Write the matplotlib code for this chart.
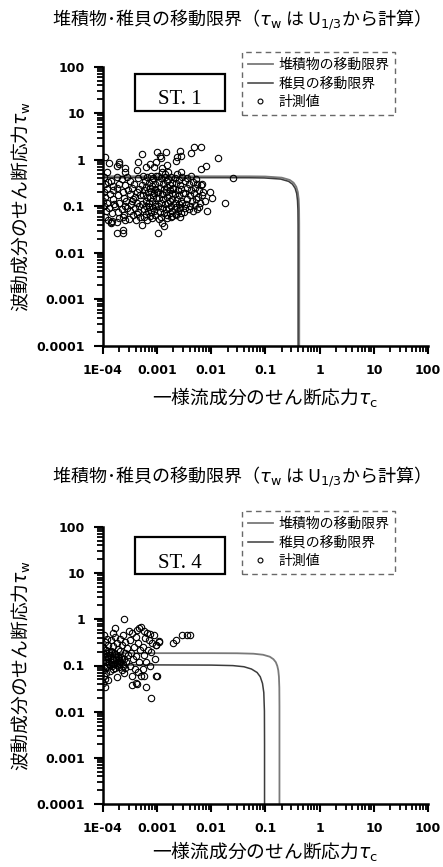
import matplotlib
matplotlib.use('Agg')
import matplotlib.pyplot as plt
from matplotlib.lines import Line2D
from matplotlib.patches import Rectangle
from matplotlib.ticker import FixedLocator, NullFormatter

plt.rcParams['font.family'] = ['Noto Sans CJK JP', 'DejaVu Sans']
plt.rcParams['mathtext.fontset'] = 'dejavusans'

# axis ticks
x_ticks = [1e-4, 1e-3, 1e-2, 1e-1, 1, 10, 100]
x_ticklabels = ['1E-04', '0.001', '0.01', '0.1', '1', '10', '100']
y_ticks = [1e-4, 1e-3, 1e-2, 1e-1, 1, 10, 100]
y_ticklabels = ['0.0001', '0.001', '0.01', '0.1', '1', '10', '100']
minor_ticks = [m * d for d in [1e-4, 1e-3, 1e-2, 1e-1, 1, 10] for m in range(2, 10)]

title_text = r'堆積物･稚貝の移動限界（$\tau_{\rm w}$ は U$_{1/3}$から計算）'
xlabel_text = r'一様流成分のせん断応力$\tau_{\rm c}$'
ylabel_text = r'波動成分のせん断応力$\tau_{\rm w}$'
legend_labels = ['堆積物の移動限界', '稚貝の移動限界', '計測値']

# ---- ST.1 : movement limits
st1_sed_tc = [1e-4, 1e-3, 0.01, 0.05, 0.1, 0.2, 0.28, 0.33, 0.37, 0.395, 0.41, 0.417, 0.4195, 0.42, 0.42]
st1_sed_tw = [0.44, 0.44, 0.44, 0.439, 0.435, 0.411, 0.367, 0.32, 0.261, 0.202, 0.142, 0.088, 0.043, 0.01, 1e-4]
st1_juv_tc = [1e-4, 1e-3, 0.01, 0.05, 0.095, 0.19, 0.267, 0.314, 0.352, 0.376, 0.39, 0.397, 0.3995, 0.40, 0.40]
st1_juv_tw = [0.41, 0.41, 0.41, 0.409, 0.405, 0.383, 0.342, 0.298, 0.243, 0.188, 0.132, 0.082, 0.04, 0.01, 1e-4]

# ---- ST.1 : measured values
st1_tc = [
    # near the axis
    1.1e-4, 1.3e-4, 1.2e-4, 1.05e-4, 1.4e-4, 1.1e-4, 1.5e-4, 1.2e-4, 1.05e-4, 1.35e-4,
    1.1e-4, 1.5e-4, 1.2e-4, 1.05e-4, 1.3e-4, 1.15e-4, 1.45e-4, 1.1e-4, 1.25e-4, 1.4e-4,
    1.6e-4, 1.0e-4, 1.55e-4, 1.25e-4,
    # 2e-4 .. 3e-4
    2.0e-4, 2.6e-4, 1.8e-4, 2.2e-4, 2.8e-4, 2.0e-4, 2.5e-4, 1.8e-4, 2.3e-4, 2.9e-4,
    1.9e-4, 2.4e-4, 2.7e-4, 2.0e-4, 1.7e-4, 2.5e-4, 2.2e-4, 2.8e-4, 1.9e-4, 2.4e-4,
    2.0e-4, 2.6e-4, 1.8e-4, 2.3e-4, 1.8e-4, 2.3e-4, 2.3e-4, 1.84e-4, 2.55e-4, 1.97e-4,
    # 3e-4 .. 5e-4
    3.2e-4, 3.8e-4, 4.5e-4, 3.5e-4, 4.2e-4, 3.1e-4, 4.8e-4, 3.6e-4, 4.3e-4, 3.3e-4,
    4.7e-4, 3.9e-4, 3.2e-4, 4.4e-4, 3.6e-4, 4.9e-4, 4.0e-4, 3.4e-4, 4.6e-4, 3.9e-4,
    5.2e-4, 4.2e-4, 4.5e-4, 5.2e-4, 3.0e-4, 4.2e-4, 1.4e-4, 1.45e-4,
    # 5e-4 .. 1e-3
    5.5e-4, 6.4e-4, 7.6e-4, 8.5e-4, 9.6e-4, 6.0e-4, 7.1e-4, 8.0e-4, 9.0e-4, 5.3e-4,
    6.3e-4, 7.3e-4, 8.2e-4, 9.3e-4, 5.8e-4, 6.8e-4, 7.8e-4, 8.9e-4, 9.8e-4, 5.5e-4,
    6.6e-4, 7.4e-4, 8.5e-4, 9.5e-4, 6.1e-4, 7.0e-4, 8.1e-4, 9.1e-4, 5.3e-4, 6.3e-4,
    7.2e-4, 8.3e-4, 9.3e-4, 5.8e-4, 6.9e-4, 7.8e-4, 8.8e-4, 6.1e-4, 7.5e-4, 9.0e-4,
    5.6e-4, 8.0e-4, 6.6e-4,
    # upper / lower stragglers
    6.1e-4, 1.0e-3, 1.43e-3, 1.16e-3, 1.12e-3, 9.4e-4, 7.4e-4, 8.7e-4, 1.24e-3, 1.54e-3,
    2.2e-3, 2.36e-3, 1.05e-3, 1.34e-3, 1.24e-3,
    # 1e-3 .. 2e-3
    1.05e-3, 1.2e-3, 1.4e-3, 1.6e-3, 1.8e-3, 1.1e-3, 1.3e-3, 1.5e-3, 1.7e-3, 1.9e-3,
    1.15e-3, 1.35e-3, 1.55e-3, 1.75e-3, 1.95e-3, 1.05e-3, 1.25e-3, 1.45e-3, 1.65e-3, 1.85e-3,
    1.1e-3, 1.3e-3, 1.5e-3, 1.7e-3, 1.9e-3, 1.2e-3, 1.4e-3, 1.6e-3, 1.8e-3, 1.05e-3,
    1.25e-3, 1.45e-3, 1.65e-3, 1.85e-3, 1.15e-3, 1.35e-3, 1.55e-3, 1.75e-3, 1.2e-3, 1.5e-3,
    1.8e-3, 1.1e-3, 1.4e-3, 1.6e-3, 1.25e-3,
    # 2e-3 .. 3e-3
    2.1e-3, 2.5e-3, 2.9e-3, 2.2e-3, 2.6e-3, 2.0e-3, 2.4e-3, 2.8e-3, 2.15e-3, 2.55e-3,
    2.95e-3, 2.3e-3, 2.7e-3, 2.1e-3, 2.5e-3, 2.9e-3, 2.25e-3, 2.65e-3, 2.4e-3, 2.8e-3,
    2.2e-3, 2.6e-3, 2.3e-3, 2.7e-3, 3.1e-3, 2.2e-3, 1.9e-3,
    # 3e-3 .. 8e-3
    3.2e-3, 3.8e-3, 4.5e-3, 5.5e-3, 6.5e-3, 3.5e-3, 4.2e-3, 5.0e-3, 6.0e-3, 7.0e-3,
    3.3e-3, 4.0e-3, 4.8e-3, 5.7e-3, 6.7e-3, 3.6e-3, 4.4e-3, 5.2e-3, 6.2e-3, 3.4e-3,
    4.1e-3, 4.9e-3, 5.8e-3, 3.9e-3, 4.6e-3, 3.2e-3, 7.5e-3, 5.5e-3, 3.5e-3, 4.3e-3,
    5.3e-3, 6.8e-3,
    # outliers
    6.5e-3, 4.8e-3, 4.3e-3, 2.6e-3, 2.8e-3, 7.9e-3, 6.4e-3, 1.32e-2, 2.5e-2, 1.76e-2,
    9.4e-3, 8.4e-3, 1.05e-2,
]
st1_tw = [
    1.15, 0.85, 0.55, 0.42, 0.35, 0.30, 0.27, 0.24, 0.20, 0.18,
    0.16, 0.14, 0.12, 0.10, 0.09, 0.08, 0.07, 0.06, 0.05, 0.045,
    0.11, 0.13, 0.22, 0.33,
    0.80, 0.55, 0.42, 0.38, 0.42, 0.30, 0.28, 0.25, 0.20, 0.22,
    0.17, 0.15, 0.13, 0.12, 0.10, 0.10, 0.085, 0.09, 0.075, 0.065,
    0.055, 0.05, 0.045, 0.06, 0.027, 0.027, 0.031, 0.74, 0.65, 0.9,
    0.35, 0.30, 0.40, 0.25, 0.20, 0.18, 0.17, 0.14, 0.12, 0.11,
    0.10, 0.09, 0.08, 0.075, 0.065, 0.06, 0.05, 0.13, 0.24, 0.16,
    0.039, 0.60, 0.90, 1.30, 0.053, 0.068, 0.043, 0.049,
    0.45, 0.42, 0.45, 0.40, 0.44, 0.35, 0.32, 0.36, 0.30, 0.28,
    0.26, 0.25, 0.27, 0.24, 0.22, 0.20, 0.21, 0.19, 0.20, 0.17,
    0.16, 0.15, 0.17, 0.15, 0.13, 0.12, 0.13, 0.11, 0.11, 0.10,
    0.095, 0.09, 0.10, 0.085, 0.08, 0.075, 0.078, 0.068, 0.062, 0.065,
    0.058, 0.055, 0.05,
    0.68, 1.44, 1.44, 1.07, 1.18, 0.88, 0.81, 0.68, 0.65, 0.77,
    0.95, 1.12, 0.027, 0.038, 0.043,
    0.45, 0.40, 0.43, 0.38, 0.42, 0.33, 0.30, 0.34, 0.29, 0.31,
    0.25, 0.23, 0.26, 0.22, 0.24, 0.20, 0.18, 0.20, 0.17, 0.19,
    0.15, 0.14, 0.155, 0.13, 0.145, 0.12, 0.11, 0.115, 0.10, 0.10,
    0.09, 0.085, 0.09, 0.08, 0.075, 0.07, 0.065, 0.07, 0.06, 0.055,
    0.058, 0.052, 0.50, 0.55, 0.55,
    0.40, 0.37, 0.42, 0.32, 0.28, 0.25, 0.22, 0.24, 0.18, 0.17,
    0.19, 0.14, 0.13, 0.12, 0.11, 0.12, 0.095, 0.09, 0.078, 0.07,
    0.065, 0.06, 0.50, 0.55, 0.076, 0.068, 0.063,
    0.35, 0.30, 0.33, 0.30, 0.28, 0.25, 0.22, 0.25, 0.22, 0.20,
    0.19, 0.17, 0.19, 0.16, 0.17, 0.14, 0.13, 0.14, 0.12, 0.11,
    0.10, 0.105, 0.095, 0.085, 0.08, 0.09, 0.13, 0.085, 0.40, 0.45,
    0.38, 0.30,
    1.9, 1.9, 1.39, 1.56, 1.18, 0.72, 0.63, 1.07, 0.40, 0.115,
    0.20, 0.077, 0.15,
]

# ---- ST.4 : movement limits
st4_sed_tc = [1e-4, 1e-3, 0.01, 0.03, 0.06, 0.09, 0.12, 0.14, 0.155, 0.165, 0.172, 0.177, 0.18, 0.181, 0.181]
st4_sed_tw = [0.185, 0.185, 0.185, 0.184, 0.18, 0.171, 0.155, 0.137, 0.118, 0.098, 0.079, 0.057, 0.033, 0.013, 1e-4]
st4_juv_tc = [1e-4, 1e-3, 0.01, 0.025, 0.04, 0.055, 0.07, 0.08, 0.088, 0.093, 0.0955, 0.096, 0.096]
st4_juv_tw = [0.103, 0.103, 0.102, 0.0995, 0.094, 0.084, 0.0705, 0.057, 0.041, 0.026, 0.0103, 0.002, 1e-4]

# ---- ST.4 : measured values
st4_tc = [
    1.05e-4, 1.2e-4, 1.1e-4, 1.25e-4, 1.0e-4, 1.15e-4, 1.3e-4, 1.05e-4, 1.2e-4, 1.1e-4,
    1.25e-4, 1.0e-4, 1.15e-4, 1.3e-4, 1.05e-4, 1.2e-4, 1.1e-4, 1.0e-4, 1.15e-4, 1.05e-4,
    1.1e-4, 1.0e-4, 1.1e-4,
    1.5e-4, 1.7e-4, 1.4e-4, 1.8e-4, 1.55e-4, 1.9e-4, 1.45e-4, 1.65e-4, 1.35e-4, 1.75e-4,
    1.5e-4, 1.95e-4, 1.4e-4, 1.6e-4, 1.85e-4, 1.45e-4, 1.7e-4, 1.55e-4, 1.35e-4, 1.8e-4,
    1.24e-4,
    2.3e-4, 2.1e-4, 2.6e-4, 2.2e-4, 2.8e-4, 2.05e-4, 2.5e-4, 2.9e-4, 2.15e-4, 2.4e-4,
    2.7e-4, 2.0e-4, 2.35e-4, 2.6e-4, 2.2e-4, 2.45e-4, 2.44e-4, 1.7e-4, 3.0e-4,
    4.3e-4, 4.6e-4, 5.0e-4, 3.5e-4, 4.0e-4, 3.2e-4, 4.4e-4, 3.7e-4, 4.8e-4, 3.3e-4,
    4.1e-4, 3.6e-4, 4.7e-4, 3.1e-4, 3.9e-4, 4.5e-4, 3.4e-4, 4.3e-4, 3.4e-4, 4.0e-4,
    5.7e-4, 6.5e-4, 7.5e-4, 8.7e-4, 6.0e-4, 7.0e-4, 8.0e-4, 9.5e-4, 5.5e-4, 6.8e-4,
    7.8e-4, 5.8e-4, 9.0e-4, 6.3e-4, 7.3e-4, 5.4e-4, 6.1e-4, 1.0e-3, 5.7e-4, 5.0e-4,
    7.7e-4, 9.5e-4, 1.08e-3, 1.1e-3, 2.0e-3, 2.9e-3, 3.6e-3, 4.1e-3, 2.2e-3, 9.5e-4,
    1.3e-4, 1.6e-4, 1.9e-4, 2.2e-4, 1.4e-4, 1.75e-4, 2.1e-4, 1.25e-4, 1.55e-4, 1.95e-4,
    2.3e-4, 1.45e-4, 1.8e-4, 1.15e-4, 2.0e-4,
]
st4_tw = [
    0.45, 0.38, 0.32, 0.28, 0.25, 0.22, 0.20, 0.18, 0.16, 0.15,
    0.14, 0.13, 0.12, 0.11, 0.10, 0.095, 0.09, 0.08, 0.07, 0.06,
    0.05, 0.042, 0.035,
    0.50, 0.42, 0.36, 0.30, 0.26, 0.23, 0.20, 0.18, 0.165, 0.15,
    0.14, 0.13, 0.12, 0.11, 0.105, 0.10, 0.09, 0.085, 0.075, 0.055,
    0.049,
    0.45, 0.38, 0.33, 0.28, 0.24, 0.21, 0.19, 0.17, 0.15, 0.135,
    0.12, 0.11, 0.10, 0.09, 0.08, 0.07, 1.0, 0.66, 0.56,
    0.59, 0.66, 0.69, 0.50, 0.42, 0.36, 0.30, 0.25, 0.22, 0.19,
    0.16, 0.14, 0.12, 0.10, 0.085, 0.072, 0.06, 0.04, 0.037, 0.042,
    0.55, 0.50, 0.48, 0.45, 0.40, 0.35, 0.30, 0.28, 0.25, 0.22,
    0.20, 0.17, 0.14, 0.12, 0.10, 0.085, 0.035, 0.06, 0.058, 0.06,
    0.02, 0.06, 0.34, 0.32, 0.31, 0.46, 0.46, 0.46, 0.36, 0.28,
    0.17, 0.19, 0.16, 0.14, 0.21, 0.13, 0.12, 0.15, 0.11, 0.095,
    0.11, 0.135, 0.115, 0.19, 0.145,
]

W, H = 443, 867
SED_COLOR = '#7a7a7a'
JUV_COLOR = '#3c3c3c'

fig = plt.figure(figsize=(W / 100, H / 100), dpi=100)


def draw_panel(top, bottom, title_y, xlabel_y, station, box_y, legend_y,
               sed_tc, sed_tw, juv_tc, juv_tw, tc, tw):
    ax = fig.add_axes([103 / W, 1 - bottom / H, 325 / W, (bottom - top) / H])
    ax.set_xscale('log')
    ax.set_yscale('log')
    ax.plot(sed_tc, sed_tw, color=SED_COLOR, lw=1.3)
    ax.plot(juv_tc, juv_tw, color=JUV_COLOR, lw=1.1)
    ax.plot(tc, tw, ls='none', marker='o', ms=4.6, mfc='none', mec='black', mew=0.8)

    ax.set_xlim(1e-4, 100)
    ax.set_ylim(1e-4, 100)
    ax.set_xticks(x_ticks)
    ax.set_xticklabels(x_ticklabels)
    ax.set_yticks(y_ticks)
    ax.set_yticklabels(y_ticklabels)
    ax.xaxis.set_minor_locator(FixedLocator(minor_ticks))
    ax.yaxis.set_minor_locator(FixedLocator(minor_ticks))
    ax.xaxis.set_minor_formatter(NullFormatter())
    ax.yaxis.set_minor_formatter(NullFormatter())
    for lab in ax.get_xticklabels() + ax.get_yticklabels():
        lab.set_fontfamily('DejaVu Sans')
        lab.set_fontweight('bold')
        lab.set_fontsize(9)
    ax.tick_params(axis='y', which='major', length=6.5, width=1.5, direction='out', pad=6.5)
    ax.tick_params(axis='x', which='major', length=5.5, width=1.5, direction='out', pad=7.5)
    ax.tick_params(which='minor', length=4.5, width=1.3, direction='out', color='black')
    for s in ('top', 'right'):
        ax.spines[s].set_visible(False)
    for s in ('left', 'bottom'):
        ax.spines[s].set_linewidth(1.8)

    fig.text(265 / W, 1 - xlabel_y / H, xlabel_text, ha='center', va='center', fontsize=13.5)
    ax.set_ylabel(ylabel_text, fontsize=13.5)
    ax.yaxis.set_label_coords(-0.215, 0.5)

    fig.text(237 / W, 1 - title_y / H, title_text, ha='center', va='center', fontsize=13)

    # station box
    fig.add_artist(Rectangle((135 / W, 1 - (box_y + 37) / H), 90 / W, 37 / H,
                             transform=fig.transFigure, fill=False, ec='black', lw=1.6))
    fig.text(180 / W, 1 - (box_y + 26) / H, station, ha='center', va='center',
             fontsize=15, family='Liberation Serif')

    handles = [Line2D([], [], color=SED_COLOR, lw=1.3),
               Line2D([], [], color=JUV_COLOR, lw=1.1),
               Line2D([], [], ls='none', marker='o', ms=3.5, mfc='none', mec='black', mew=0.8)]
    leg = ax.legend(handles, legend_labels, loc='upper left',
                    bbox_to_anchor=(242 / W, 1 - legend_y / H), bbox_transform=fig.transFigure,
                    fontsize=10, frameon=True, fancybox=False, edgecolor='#444444',
                    handlelength=1.8, handletextpad=0.4, labelspacing=0.35,
                    borderpad=0.4, borderaxespad=0)
    leg.get_frame().set_linestyle((0, (4, 3)))
    leg.get_frame().set_linewidth(1.0)
    return ax


draw_panel(66.7, 345.7, 20, 398, 'ST. 1', 74, 52,
           st1_sed_tc, st1_sed_tw, st1_juv_tc, st1_juv_tw, st1_tc, st1_tw)
draw_panel(527, 804, 477, 852, 'ST. 4', 537, 511,
           st4_sed_tc, st4_sed_tw, st4_juv_tc, st4_juv_tw, st4_tc, st4_tw)

fig.savefig('out.png', dpi=100)
